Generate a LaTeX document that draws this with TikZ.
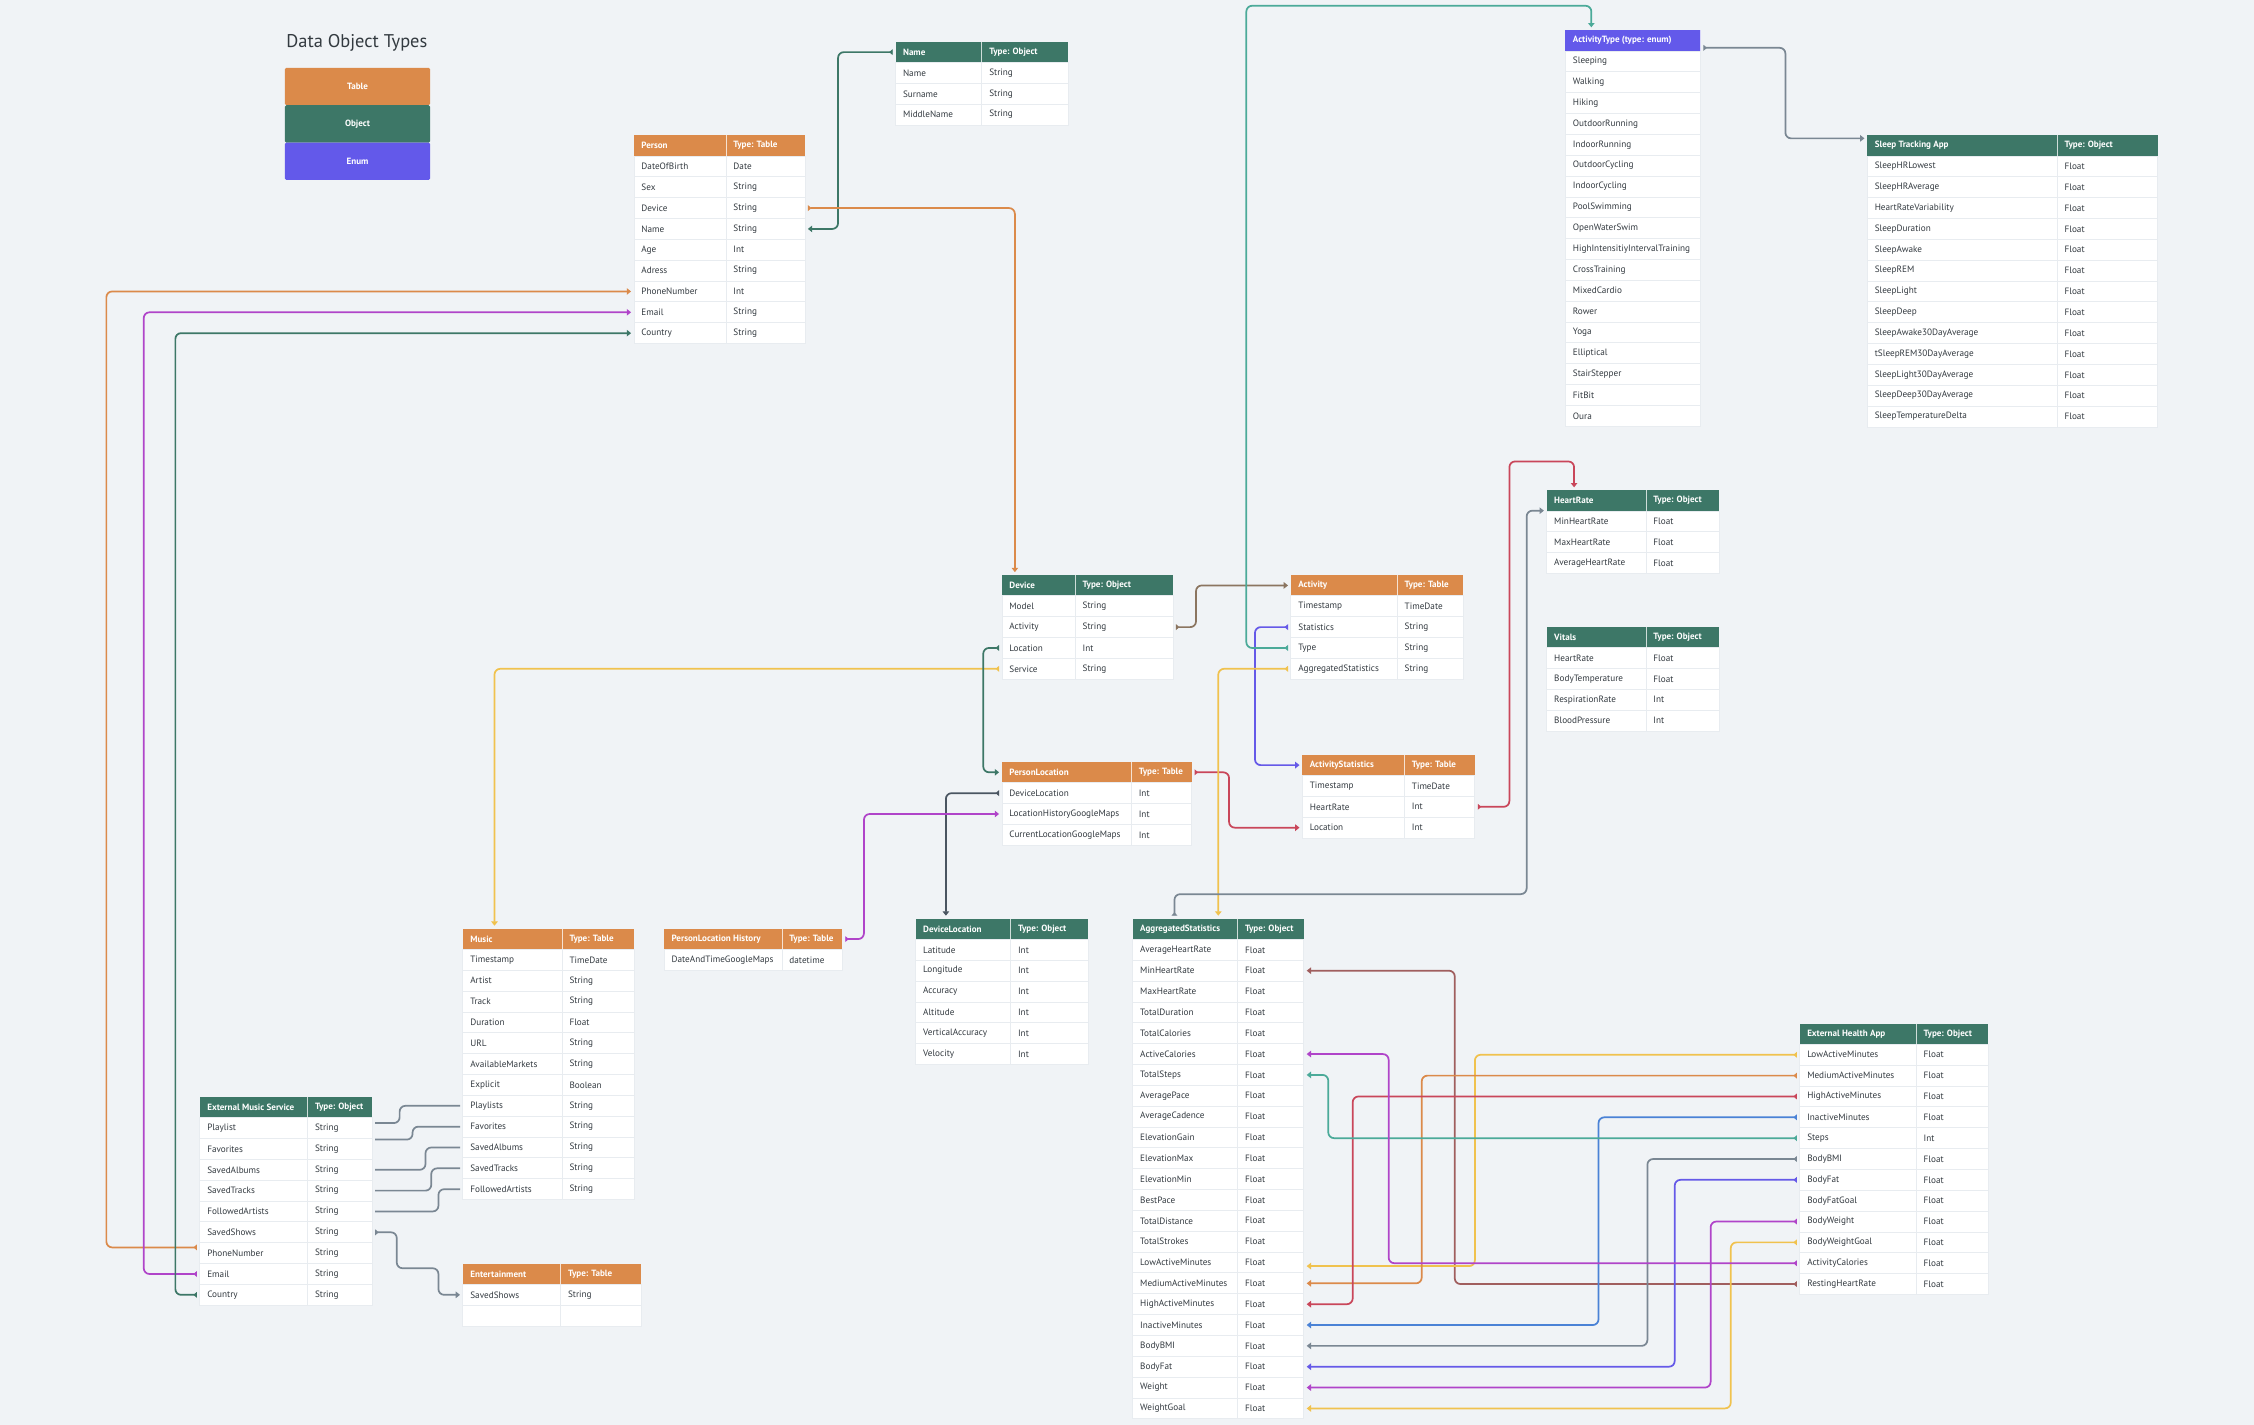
\documentclass[tikz,border=0pt]{standalone}
\usepackage{fontspec}
\setmainfont{PT Sans}
\usetikzlibrary{arrows.meta}
\definecolor{bg}{HTML}{F0F3F6}
\definecolor{tor}{HTML}{DB8A4A}
\definecolor{tgr}{HTML}{3D7767}
\definecolor{ten}{HTML}{6359EA}
\definecolor{txt}{HTML}{333A40}
\definecolor{rline}{HTML}{E8ECF0}
\definecolor{corange}{HTML}{DB8A4A}
\definecolor{cpurple}{HTML}{B044C9}
\definecolor{cgreen}{HTML}{3D7767}
\definecolor{cbrown}{HTML}{8B7560}
\definecolor{cyellow}{HTML}{F0C24E}
\definecolor{cslate}{HTML}{4A5561}
\definecolor{cred}{HTML}{C9465A}
\definecolor{cviolet}{HTML}{6559E8}
\definecolor{cteal}{HTML}{4BAA99}
\definecolor{cgrey}{HTML}{7A8793}
\definecolor{cmaroon}{HTML}{A05E5E}
\definecolor{cblue}{HTML}{4A82D6}
\tikzset{
 hdr/.style={rectangle,minimum height=14.5pt,inner sep=0pt,outer sep=0pt},
 rowbox/.style={rectangle,fill=white,draw=rline,line width=0.6pt,minimum height=14.5pt,inner sep=0pt,outer sep=0pt},
 htext/.style={text=white,font=\fontsize{6.3}{7}\selectfont\bfseries,inner sep=0pt},
 rtext/.style={text=txt,font=\fontsize{6.4}{7}\selectfont,inner sep=0pt},
 conn/.style={line width=1.2pt,rounded corners=4pt,shorten <=2pt,shorten >=2pt,
   {Triangle[reversed,length=2.5pt,width=4pt]}-{Triangle[length=3pt,width=4.5pt]}},
 plain/.style={line width=1.2pt,rounded corners=4pt,shorten <=2pt,shorten >=2pt},
 legbox/.style={rectangle,rounded corners=1pt,minimum width=101pt,minimum height=26pt,text=white,font=\fontsize{6.3}{7}\selectfont\bfseries,inner sep=0pt}
}
\newcommand\dtab[9]{%
 \node[hdr,fill=#6,minimum width={(#4+#5)*1pt},anchor=north west] (#1) at (#2,#3) {};
 \node[htext,anchor=west] at ([xshift=5pt]#1.west) {#7};
 \node[htext,anchor=west] at ([xshift={(#4+5)*1pt}]#1.west) {#8};
 \draw[white!75!#6,line width=0.5pt] ([xshift=#4pt]#1.north west) -- ([xshift=#4pt]#1.south west);
 \foreach \a/\b [count=\i] in {#9} {
  \node[rowbox,minimum width={(#4+#5)*1pt},anchor=north west] (#1-\i) at (#2,{#3+14.5*\i}) {};
  \node[rtext,anchor=west] at ([xshift=5pt]#1-\i.west) {\a};
  \node[rtext,anchor=west] at ([xshift={(#4+5)*1pt}]#1-\i.west) {\b};
  \draw[rline,line width=0.6pt] ([xshift=#4pt]#1-\i.north west) -- ([xshift=#4pt]#1-\i.south west);
 }
}
\begin{document}
\begin{tikzpicture}[x=1pt,y=-1pt]
\fill[bg] (0,0) rectangle (1568,991);
\useasboundingbox (0,0) rectangle (1568,991);
% legend
\node[anchor=west,text=txt,font=\fontsize{12.8}{14}\selectfont,inner sep=0pt] (legtitle) at (199,30) {Data Object Types};
\node[legbox,fill=tor,anchor=north west] (legt) at (198,47) {Table};
\node[legbox,fill=tgr,anchor=north west] (lego) at (198,73) {Object};
\node[legbox,fill=ten,anchor=north west] (lege) at (198,99) {Enum};
% tables
\dtab{nm}{623}{29}{60}{60}{tgr}{Name}{Type: Object}{Name/String,Surname/String,MiddleName/String}
\dtab{per}{441}{94}{64}{55}{tor}{Person}{Type: Table}{DateOfBirth/Date,Sex/String,Device/String,Name/String,Age/Int,Adress/String,PhoneNumber/Int,Email/String,Country/String}
\dtab{aty}{1089}{21}{94}{0}{ten}{ActivityType (type: enum)}{}{Sleeping/{},Walking/{},Hiking/{},OutdoorRunning/{},IndoorRunning/{},OutdoorCycling/{},IndoorCycling/{},PoolSwimming/{},OpenWaterSwim/{},HighIntensitiyIntervalTraining/{},CrossTraining/{},MixedCardio/{},Rower/{},Yoga/{},Elliptical/{},StairStepper/{},FitBit/{},Oura/{}}
\dtab{sta}{1299}{94}{132}{70}{tgr}{Sleep Tracking App}{Type: Object}{SleepHRLowest/Float,SleepHRAverage/Float,HeartRateVariability/Float,SleepDuration/Float,SleepAwake/Float,SleepREM/Float,SleepLight/Float,SleepDeep/Float,SleepAwake30DayAverage/Float,tSleepREM30DayAverage/Float,SleepLight30DayAverage/Float,SleepDeep30DayAverage/Float,SleepTemperatureDelta/Float}
\dtab{hr}{1076}{341}{69}{51}{tgr}{HeartRate}{Type: Object}{MinHeartRate/Float,MaxHeartRate/Float,AverageHeartRate/Float}
\dtab{vit}{1076}{436}{69}{51}{tgr}{Vitals}{Type: Object}{HeartRate/Float,BodyTemperature/Float,RespirationRate/Int,BloodPressure/Int}
\dtab{dev}{697}{400}{51}{68}{tgr}{Device}{Type: Object}{Model/String,Activity/String,Location/Int,Service/String}
\dtab{act}{898}{400}{74}{46}{tor}{Activity}{Type: Table}{Timestamp/TimeDate,Statistics/String,Type/String,AggregatedStatistics/String}
\dtab{pl}{697}{530}{90}{42}{tor}{PersonLocation}{Type: Table}{DeviceLocation/Int,LocationHistoryGoogleMaps/Int,CurrentLocationGoogleMaps/Int}
\dtab{ast}{906}{525}{71}{49}{tor}{ActivityStatistics}{Type: Table}{Timestamp/TimeDate,HeartRate/Int,Location/Int}
\dtab{mus}{322}{646}{69}{50}{tor}{Music}{Type: Table}{Timestamp/TimeDate,Artist/String,Track/String,Duration/Float,URL/String,AvailableMarkets/String,Explicit/Boolean,Playlists/String,Favorites/String,SavedAlbums/String,SavedTracks/String,FollowedArtists/String}
\dtab{plh}{462}{646}{82}{42}{tor}{PersonLocation History}{Type: Table}{DateAndTimeGoogleMaps/datetime}
\dtab{dl}{637}{639}{66}{54}{tgr}{DeviceLocation}{Type: Object}{Latitude/Int,Longitude/Int,Accuracy/Int,Altitude/Int,VerticalAccuracy/Int,Velocity/Int}
\dtab{ags}{788}{639}{73}{46}{tgr}{AggregatedStatistics}{Type: Object}{AverageHeartRate/Float,MinHeartRate/Float,MaxHeartRate/Float,TotalDuration/Float,TotalCalories/Float,ActiveCalories/Float,TotalSteps/Float,AveragePace/Float,AverageCadence/Float,ElevationGain/Float,ElevationMax/Float,ElevationMin/Float,BestPace/Float,TotalDistance/Float,TotalStrokes/Float,LowActiveMinutes/Float,MediumActiveMinutes/Float,HighActiveMinutes/Float,InactiveMinutes/Float,BodyBMI/Float,BodyFat/Float,Weight/Float,WeightGoal/Float}
\dtab{eha}{1252}{712}{81}{50}{tgr}{External Health App}{Type: Object}{LowActiveMinutes/Float,MediumActiveMinutes/Float,HighActiveMinutes/Float,InactiveMinutes/Float,Steps/Int,BodyBMI/Float,BodyFat/Float,BodyFatGoal/Float,BodyWeight/Float,BodyWeightGoal/Float,ActivityCalories/Float,RestingHeartRate/Float}
\dtab{ems}{139}{763}{75}{45}{tgr}{External Music Service}{Type: Object}{Playlist/String,Favorites/String,SavedAlbums/String,SavedTracks/String,FollowedArtists/String,SavedShows/String,PhoneNumber/String,Email/String,Country/String}
\dtab{ent}{322}{879}{68}{56}{tor}{Entertainment}{Type: Table}{SavedShows/String,{}/{}}
% connectors
\draw[conn,cgreen] (nm.west) -- ++(-40,0) |- (per-4.east);
\draw[conn,corange] (per-3.east) -| ([xshift=-50.5pt]dev.north);
\draw[conn,corange] ([yshift=4pt]ems-7.west) -- ++(-65,0) |- (per-7.west);
\draw[conn,cpurple] (ems-8.west) -- ++(-39,0) |- (per-8.west);
\draw[conn,cgreen] (ems-9.west) -- ++(-17,0) |- (per-9.west);
\draw[conn,cbrown] (dev-2.east) -- ++(16,0) |- (act.west);
\draw[conn,cyellow] (dev-4.west) -| ([xshift=-37.5pt]mus.north);
\draw[conn,cgreen] (dev-3.west) -- ++(-13,0) |- (pl.west);
\draw[conn,cslate] (pl-1.west) -| ([xshift=-39pt]dl.north);
\draw[conn,cpurple] (plh.east) -- ++(15,0) |- (pl-2.west);
\draw[conn,cred] (pl.east) -- ++(26,0) |- (ast-3.west);
\draw[conn,cviolet] (act-2.west) -- ++(-25,0) |- (ast.west);
\draw[conn,cteal] (act-3.west) -- ++(-31,0) |- ([xshift=-29pt,yshift=17pt]aty.north) -- ([xshift=-29pt]aty.north);
\draw[conn,cyellow] (act-4.west) -| (ags.north);
\draw[conn,cgrey] ([yshift=-5pt]aty.east) -- ++(59,0) |- ([yshift=5pt]sta.west);
\draw[conn,cred] (ast-2.east) -- ++(24,0) |- ([xshift=-41pt,yshift=20pt]hr.north) -- ([xshift=-41pt]hr.north);
\draw[conn,cgrey] ([xshift=-30.5pt]ags.north) -- ++(0,-17) -| ([xshift=-14pt,yshift=-7pt]hr.west) -- ([yshift=-7pt]hr.west);
\draw[conn,cmaroon] (eha-12.west) -- ++(-240,0) |- (ags-2.east);
\draw[conn,cyellow] (eha-1.west) -- ++(-226,0) |- ([yshift=-2.5pt]ags-16.east);
\draw[conn,corange] (eha-2.west) -- ++(-263,0) |- (ags-17.east);
\draw[conn,cred] (eha-3.west) -- ++(-311,0) |- (ags-18.east);
\draw[conn,cblue] (eha-4.west) -- ++(-140,0) |- (ags-19.east);
\draw[conn,cteal] (eha-5.west) -- ++(-328,0) |- (ags-7.east);
\draw[conn,cgrey] (eha-6.west) -- ++(-106,0) |- (ags-20.east);
\draw[conn,cviolet] (eha-7.west) -- ++(-87,0) |- (ags-21.east);
\draw[conn,cpurple] (eha-9.west) -- ++(-62,0) |- (ags-22.east);
\draw[conn,cyellow] (eha-10.west) -- ++(-48,0) |- (ags-23.east);
\draw[conn,cpurple] (eha-11.west) -- ++(-286,0) |- (ags-6.east);
% music links
\draw[plain,cgrey] ([yshift=3.5pt]ems-1.east) -- ++(19,0) |- (mus-8.west);
\draw[plain,cgrey] ([yshift=6.5pt]ems-2.east) -- ++(28,0) |- (mus-9.west);
\draw[plain,cgrey] (ems-3.east) -- ++(37,0) |- (mus-10.west);
\draw[plain,cgrey] (ems-4.east) -- ++(41,0) |- (mus-11.west);
\draw[plain,cgrey] (ems-5.east) -- ++(46,0) |- (mus-12.west);
\draw[conn,cgrey] (ems-6.east) -- ++(17,0) -- ++(0,25) -| ([xshift=-17pt]ent-1.west) -- (ent-1.west);
\end{tikzpicture}
\end{document}
